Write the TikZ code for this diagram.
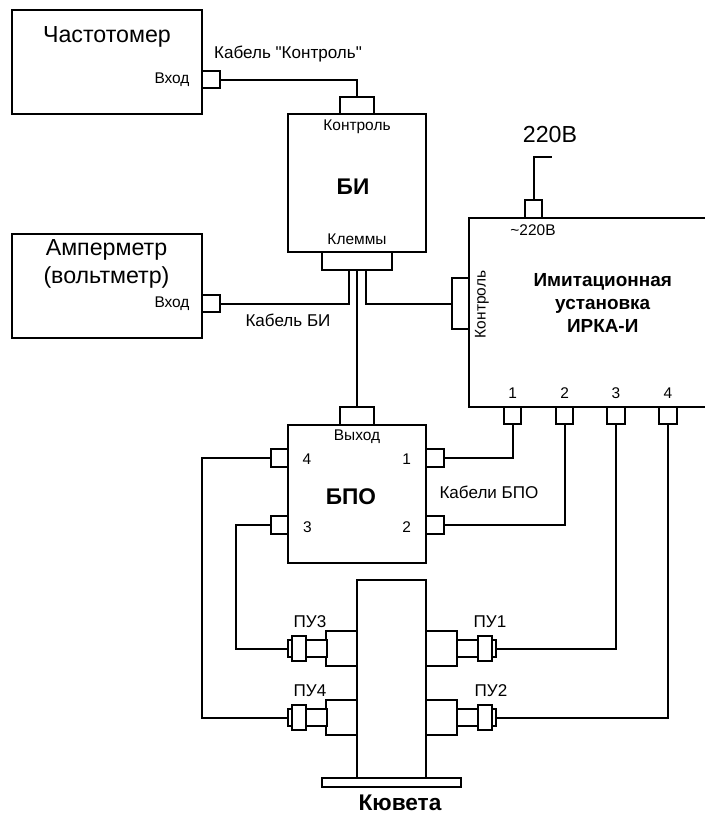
\documentclass[tikz,border=0pt]{standalone}
\usepackage{fontspec}
\setmainfont{Liberation Sans}
\newfontfamily\quotefont{Liberation Sans}
\usetikzlibrary{positioning}
\tikzset{
  sz/.style n args={2}{minimum width=#1*0.75pt,minimum height=#2*0.75pt},
  plainbox/.style={rectangle,draw=black,line width=1.5pt,fill=white,inner sep=0pt,outer sep=0pt},
  devbox/.style={plainbox,sz={138}{138}},
  portbox/.style={plainbox,sz={17.5}{17.5}},
  wideport/.style={plainbox,sz={34.5}{17.5}},
  txtsmall/.style={inner sep=0pt,font=\fontsize{11.6}{13}\selectfont},
  txtmid/.style={inner sep=0pt,font=\fontsize{12.8}{15}\selectfont},
  txtbig/.style={inner sep=0pt,align=center,font=\fontsize{17.4}{21}\selectfont},
  txtbold/.style={inner sep=0pt,align=center,font=\fontsize{14.2}{17.3}\selectfont\bfseries},
  txthead/.style={inner sep=0pt,font=\fontsize{17}{19}\selectfont\bfseries},
  cable/.style={line width=1.5pt}
}
\begin{document}
\begin{tikzpicture}[x=0.75pt,y=-0.75pt]
  \useasboundingbox (0,0) rectangle (704,814);

  %% Cables
  \coordinate (mains) at (551.7,157.3);

  %% Devices
  \node[plainbox,sz={190}{104}] (chast) at (107,62) {};
  \node[plainbox,sz={190}{104}] (amper) at (107,286) {};
  \node[devbox] (bi) at (357,183) {};
  \node[devbox] (bpo) at (357,493.5) {};
  \node[plainbox,sz={239}{189}] (irka) at (588.5,312.2) {};

  %% Ports
  \node[portbox,anchor=west] (chastin) at (202,79.5) {};
  \node[portbox,anchor=west] (amperin) at (202,303.5) {};
  \node[wideport,above=0pt of bi] (bictl) {};
  \node[plainbox,sz={69.5}{17.5},below=0pt of bi] (bikl) {};
  \node[wideport,above=0pt of bpo] (bpoout) {};
  \node[portbox,anchor=east] (bpo4) at (288,458) {};
  \node[portbox,anchor=east] (bpo3) at (288,525) {};
  \node[portbox,anchor=west] (bpo1) at (426,458) {};
  \node[portbox,anchor=west] (bpo2) at (426,525) {};
  \node[plainbox,sz={17.5}{51.5},anchor=east] (irkactl) at (469,303.5) {};
  \node[portbox,anchor=south] (irkapow) at (533.7,217.7) {};
  \node[portbox,anchor=north] (irka1) at (512.7,406.7) {};
  \node[portbox,anchor=north] (irka2) at (564.7,406.7) {};
  \node[portbox,anchor=north] (irka3) at (616,406.7) {};
  \node[portbox,anchor=north] (irka4) at (668,406.7) {};

  %% Cuvette
  \node[plainbox,sz={69}{198}] (cuv) at (391.5,679) {};
  \node[plainbox,sz={138.3}{9},below=0pt of cuv] (cuvbase) {};
  % right side sensors
  \node[plainbox,sz={31}{35},anchor=west] (blk1) at (426,648.5) {};
  \node[plainbox,sz={21}{17.5},anchor=west] (neck1) at (457,648.5) {};
  \node[plainbox,sz={14}{25.5},anchor=west] (coll1) at (477.7,648.5) {};
  \node[plainbox,sz={4}{17.5},anchor=west] (tip1) at (491.7,648.5) {};
  \node[plainbox,sz={31}{35},anchor=west] (blk2) at (426,717.5) {};
  \node[plainbox,sz={21}{17.5},anchor=west] (neck2) at (457,717.5) {};
  \node[plainbox,sz={14}{25.5},anchor=west] (coll2) at (477.7,717.5) {};
  \node[plainbox,sz={4}{17.5},anchor=west] (tip2) at (491.7,717.5) {};
  % left side sensors
  \node[plainbox,sz={31}{35},anchor=east] (blk3) at (357,648.5) {};
  \node[plainbox,sz={21}{17.5},anchor=east] (neck3) at (326.7,648.5) {};
  \node[plainbox,sz={14}{25.5},anchor=east] (coll3) at (306,648.5) {};
  \node[plainbox,sz={4}{17.5},anchor=east] (tip3) at (292.3,648.5) {};
  \node[plainbox,sz={31}{35},anchor=east] (blk4) at (357,717.5) {};
  \node[plainbox,sz={21}{17.5},anchor=east] (neck4) at (326.7,717.5) {};
  \node[plainbox,sz={14}{25.5},anchor=east] (coll4) at (306,717.5) {};
  \node[plainbox,sz={4}{17.5},anchor=east] (tip4) at (292.3,717.5) {};

  %% Labels
  \node[txtbig] (chastlab) at (107,37) {Частотомер};
  \node[txtbig] (amperlab) at (106.5,264) {Амперметр\\(вольтметр)};
  \node[txtsmall] (chastinlab) at (172,80) {Вход};
  \node[txtsmall] (amperinlab) at (172,304) {Вход};
  \node[txtmid] (kabctl) at (288,54) {Кабель {\quotefont"}Контроль{\quotefont"}};
  \node[txtmid] (kabbi) at (288,320) {Кабель БИ};
  \node[txtmid] (kabbpo) at (489,492) {Кабели БПО};
  \node[txtsmall] (bictllab) at (357,127) {Контроль};
  \node[txtsmall] (bikllab) at (357,239) {Клеммы};
  \node[txthead] (bilab) at (353,187) {БИ};
  \node[txtsmall] (vyhlab) at (357,437) {Выход};
  \node[txthead] (bpolab) at (351,497) {БПО};
  \node[txtsmall] (p4lab) at (307,459) {4};
  \node[txtsmall] (p3lab) at (307.5,527) {3};
  \node[txtsmall] (p1lab) at (406.7,459) {1};
  \node[txtsmall] (p2lab) at (406.7,527) {2};
  \node[txtbold] (irkalab) at (602.7,303) {Имитационная\\установка\\ИРКА-И};
  \node[txtsmall,rotate=90] (irkactllab) at (482,304.5) {Контроль};
  \node[txtsmall] (powlab) at (533,230) {\textasciitilde 220В};
  \node[txtbig] (mainslab) at (550,135) {220В};
  \node[txtsmall] (i1lab) at (512.7,393) {1};
  \node[txtsmall] (i2lab) at (564.7,393) {2};
  \node[txtsmall] (i3lab) at (616,393) {3};
  \node[txtsmall] (i4lab) at (668,393) {4};
  \node[txtmid] (pu3lab) at (310,622) {ПУ3};
  \node[txtmid] (pu4lab) at (310,691) {ПУ4};
  \node[txtmid] (pu1lab) at (490,622) {ПУ1};
  \node[txtmid] (pu2lab) at (491,691) {ПУ2};
  \node[txthead] (cuvlab) at (400,803) {Кювета};

  %% Arrows
  \draw[cable] (chastin.east) -| (bictl.north);
  \draw[cable] ([xshift=-6.2pt]bikl.south) |- (amperin.east);
  \draw[cable] (bikl.south) -- (bpoout.north);
  \draw[cable] ([xshift=6.5pt]bikl.south) |- (irkactl.west);
  \draw[cable] (irkapow.north) |- (mains);
  \draw[cable] (bpo1.east) -| (irka1.south);
  \draw[cable] (bpo2.east) -| (irka2.south);
  \draw[cable] (irka3.south) |- (tip1.east);
  \draw[cable] (irka4.south) |- (tip2.east);
  \draw[cable] (bpo3.west) -- ++(-35,0) |- (tip3.west);
  \draw[cable] (bpo4.west) -- ++(-69,0) |- (tip4.west);
\end{tikzpicture}
\end{document}
